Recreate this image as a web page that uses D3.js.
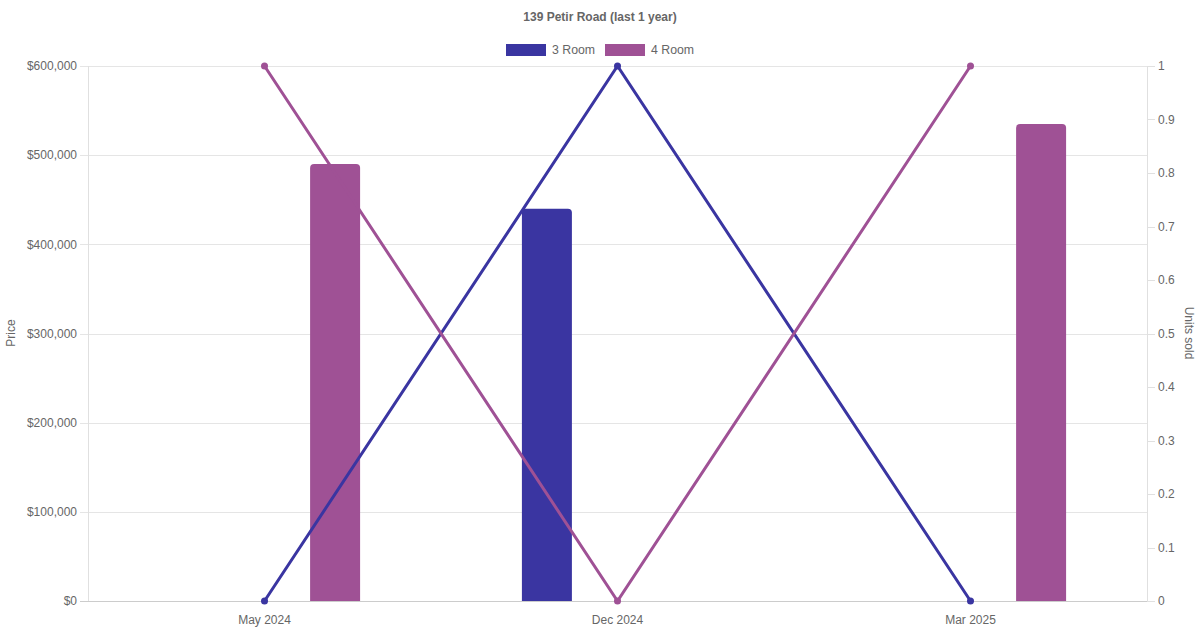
<!DOCTYPE html>
<html><head><meta charset="utf-8">
<script src="https://cdn.jsdelivr.net/npm/d3@7"></script>
<style>body{margin:0;background:#fff}svg{display:block;font-family:"Liberation Sans",Arial,Helvetica,sans-serif}</style>
</head><body><svg id="c" width="1200" height="630"></svg>
<script>
const categories = ["May 2024", "Dec 2024", "Mar 2025"];
const seriesNames = ["3 Room", "4 Room"];
const colors = ["#3a35a1", "#9f5195"];
const priceValues = [
  [null, 440000, null],
  [490000, null, 535000]
];
const unitsValues = [
  [0, 1, 0],
  [1, 0, 1]
];
const priceTicks = [0, 100000, 200000, 300000, 400000, 500000, 600000];
const unitTicks = [0, 0.1, 0.2, 0.3, 0.4, 0.5, 0.6, 0.7, 0.8, 0.9, 1];

const svg = d3.select("#c");
const L = 88, R = 1147, T = 66, B = 601;
const x = d3.scaleBand().domain(categories).range([L, R]);
const yP = d3.scaleLinear().domain([0, 600000]).range([B, T]);
const yU = d3.scaleLinear().domain([0, 1]).range([B, T]);
const catW = x.bandwidth() * 0.8;
const slot = catW / 2;
const barW = 50;

// gridlines
const g = svg.append("g");
g.selectAll("line.grid").data(priceTicks).join("line")
  .attr("x1", L - 8).attr("x2", R).attr("y1", d => Math.round(yP(d)) + 0.5).attr("y2", d => Math.round(yP(d)) + 0.5)
  .attr("stroke", d => d === 0 ? "#cccccc" : "#e5e5e5").attr("stroke-width", 1);
g.append("line").attr("x1", L + 0.5).attr("x2", L + 0.5).attr("y1", T).attr("y2", B).attr("stroke", "#e0e0e0");
g.append("line").attr("x1", R + 0.5).attr("x2", R + 0.5).attr("y1", T).attr("y2", B).attr("stroke", "#e0e0e0");
g.selectAll("line.ut").data(unitTicks).join("line")
  .attr("x1", R).attr("x2", R + 8).attr("y1", d => Math.round(yU(d)) + 0.5).attr("y2", d => Math.round(yU(d)) + 0.5)
  .attr("stroke", "#e0e0e0");

// tick labels
svg.append("g").selectAll("text").data(priceTicks).join("text")
  .attr("x", L - 11).attr("y", d => yP(d)).attr("dy", "0.35em").attr("text-anchor", "end")
  .attr("font-size", 12).attr("fill", "#666").text(d => "$" + d3.format(",")(d));
svg.append("g").selectAll("text").data(unitTicks).join("text")
  .attr("x", R + 11).attr("y", d => yU(d)).attr("dy", "0.35em").attr("text-anchor", "start")
  .attr("font-size", 12).attr("fill", "#666").text(d => d3.format("~g")(d));
svg.append("g").selectAll("text").data(categories).join("text")
  .attr("x", d => x(d) + x.bandwidth() / 2).attr("y", 620).attr("dy", "0.35em").attr("text-anchor", "middle")
  .attr("font-size", 12).attr("fill", "#666").text(d => d);

// axis titles
svg.append("text").attr("transform", "translate(11,333) rotate(-90)").attr("text-anchor", "middle")
  .attr("dy", "0.35em").attr("font-size", 12).attr("fill", "#666").text("Price");
svg.append("text").attr("transform", "translate(1189,333) rotate(90)").attr("text-anchor", "middle")
  .attr("dy", "0.35em").attr("font-size", 12).attr("fill", "#666").text("Units sold");

// bars
const rr = 4;
function barPath(x0, w, yTop, yBot) {
  return `M${x0},${yBot}V${yTop + rr}Q${x0},${yTop} ${x0 + rr},${yTop}H${x0 + w - rr}Q${x0 + w},${yTop} ${x0 + w},${yTop + rr}V${yBot}Z`;
}
seriesNames.forEach((s, si) => {
  categories.forEach((c, ci) => {
    const v = priceValues[si][ci];
    if (v == null) return;
    const cx = x(c) + x.bandwidth() / 2 - catW / 2 + slot * si + slot / 2;
    svg.append("path").attr("d", barPath(cx - barW / 2, barW, yP(v), yP(0))).attr("fill", colors[si]);
  });
});

// lines
seriesNames.forEach((s, si) => {
  const pts = categories.map((c, ci) => [x(c) + x.bandwidth() / 2, yU(unitsValues[si][ci])]);
  svg.append("path").attr("d", d3.line()(pts)).attr("fill", "none").attr("stroke", colors[si]).attr("stroke-width", 3);
  svg.append("g").selectAll("circle").data(pts).join("circle")
    .attr("cx", d => d[0]).attr("cy", d => d[1]).attr("r", 3.5).attr("fill", colors[si]);
});

// title
svg.append("text").attr("x", 600).attr("y", 17).attr("dy", "0.35em").attr("text-anchor", "middle")
  .attr("font-size", 12).attr("font-weight", "bold").attr("fill", "#666").text("139 Petir Road (last 1 year)");

// legend
const legX = [506, 605];
seriesNames.forEach((s, si) => {
  svg.append("rect").attr("x", legX[si]).attr("y", 44).attr("width", 40).attr("height", 12).attr("fill", colors[si]);
  svg.append("text").attr("x", legX[si] + 46).attr("y", 50).attr("dy", "0.35em").attr("font-size", 12.3).attr("fill", "#666").text(s);
});
</script></body></html>
